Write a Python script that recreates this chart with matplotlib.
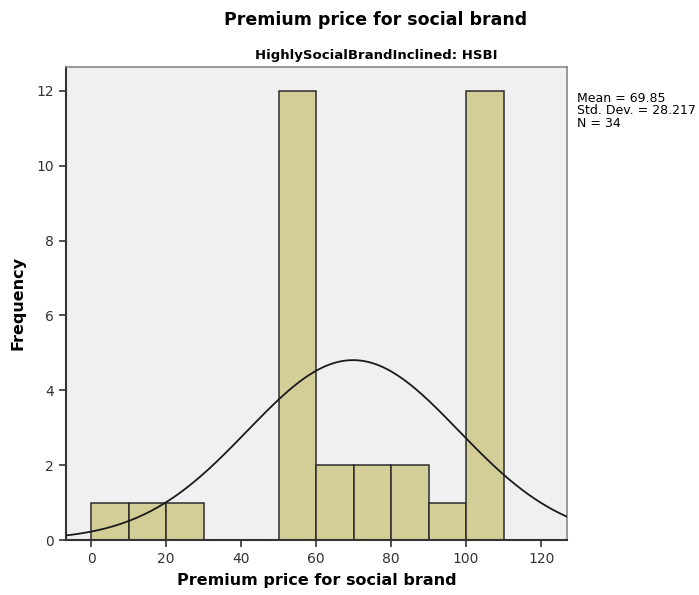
import numpy as np
import matplotlib.pyplot as plt

# bin edges and counts
bin_left = [0, 10, 20, 50, 60, 70, 80, 90, 100]
counts = [1, 1, 1, 12, 2, 2, 2, 1, 12]
bin_width = 10

mean = 69.85
std = 28.217
n = 34

xticks = [0, 20, 40, 60, 80, 100, 120]
yticks = [0, 2, 4, 6, 8, 10, 12]

fig = plt.figure(figsize=(6.99, 5.95), dpi=100)
ax = fig.add_axes([66 / 699, 1 - 540 / 595, (567 - 66) / 699, (540 - 67) / 595])
ax.set_facecolor('#f0f0f0')

ax.bar(bin_left, counts, width=bin_width, align='edge', color='#d3ce97',
       edgecolor='#2b2b2b', linewidth=1.1, zorder=2)

# normal curve scaled to counts
xs = np.linspace(-7, 127, 400)
ys = n * bin_width / (std * np.sqrt(2 * np.pi)) * np.exp(-0.5 * ((xs - mean) / std) ** 2)
ax.plot(xs, ys, color='#1a1a1a', lw=1.3, zorder=3)

ax.set_xlim(-6.7, 126.9)
ax.set_ylim(0, 12.64)
ax.set_xticks(xticks)
ax.set_yticks(yticks)
ax.tick_params(labelsize=10, colors='#333333', length=5, width=1.2)

for s in ['left', 'bottom']:
    ax.spines[s].set_color('#333333')
    ax.spines[s].set_linewidth(1.5)
for s in ['top', 'right']:
    ax.spines[s].set_color('#888888')
    ax.spines[s].set_linewidth(1.2)

ax.set_xlabel('Premium price for social brand', fontsize=11.5, fontweight='bold', labelpad=5)
ax.set_ylabel('Frequency', fontsize=11.5, fontweight='bold', labelpad=8)

fig.text(376 / 699, 1 - 20 / 595, 'Premium price for social brand', ha='center', va='center',
         fontsize=12.5, fontweight='bold')
fig.text(376 / 699, 1 - 55 / 595, 'HighlySocialBrandInclined: HSBI', ha='center', va='center',
         fontsize=9.5, fontweight='bold')

fig.text(577 / 699, 1 - 92 / 595,
         'Mean = %.2f\nStd. Dev. = %.3f\nN = %d' % (mean, std, n),
         ha='left', va='top', fontsize=9, linespacing=0.95)

fig.savefig('out.png', dpi=100)
